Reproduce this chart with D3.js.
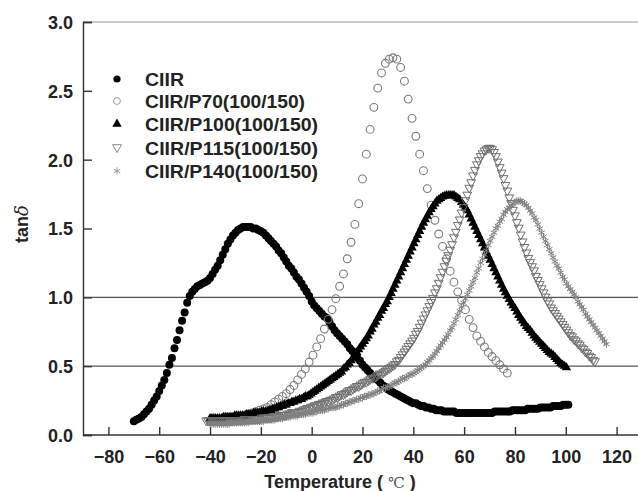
<!DOCTYPE html>
<html><head><meta charset="utf-8">
<script src="https://cdn.jsdelivr.net/npm/d3@7"></script>
<style>
body{margin:0;background:#fff;}
svg{display:block;font-family:"Liberation Sans",Arial,sans-serif;}
</style></head>
<body><svg id="c" width="638" height="491"></svg>
<script>
// ---- data ----
const seriesNames = ["CIIR","CIIR/P70(100/150)","CIIR/P100(100/150)","CIIR/P115(100/150)","CIIR/P140(100/150)"];
const xTicks = [-80,-60,-40,-20,0,20,40,60,80,100,120];
const yTicks = [0.0,0.5,1.0,1.5,2.0,2.5,3.0];
const gridValues = [0.5,1.0];

// CIIR: T from -70, step 1
const ciirStart = -70, ciirStep = 1;
const ciir = [0.10,0.11,0.12,0.13,0.15,0.17,0.19,0.22,0.25,0.28,
0.32,0.36,0.40,0.45,0.51,0.56,0.63,0.69,0.76,0.83,
0.89,0.96,1.01,1.04,1.06,1.08,1.09,1.10,1.11,1.12,
1.14,1.17,1.20,1.23,1.27,1.31,1.35,1.39,1.42,1.45,
1.47,1.49,1.50,1.51,1.51,1.51,1.51,1.50,1.50,1.49,
1.48,1.47,1.45,1.43,1.41,1.39,1.37,1.34,1.32,1.29,
1.26,1.23,1.21,1.18,1.15,1.13,1.10,1.07,1.04,1.01,
0.97,0.94,0.92,0.90,0.88,0.86,0.85,0.82,0.79,0.76,
0.74,0.72,0.70,0.68,0.66,0.63,0.61,0.58,0.56,0.54,
0.51,0.49,0.47,0.45,0.43,0.41,0.40,0.38,0.36,0.35,
0.33,0.32,0.31,0.30,0.29,0.28,0.27,0.26,0.25,0.24,
0.23,0.23,0.22,0.21,0.21,0.20,0.20,0.19,0.19,0.18,
0.18,0.18,0.17,0.17,0.17,0.17,0.17,0.16,0.16,0.16,
0.16,0.16,0.16,0.16,0.16,0.16,0.16,0.16,0.16,0.16,
0.16,0.16,0.17,0.17,0.17,0.17,0.17,0.17,0.17,0.18,
0.18,0.18,0.18,0.18,0.18,0.19,0.19,0.19,0.19,0.19,
0.20,0.20,0.20,0.20,0.20,0.21,0.21,0.21,0.21,0.22,0.22,0.22];

// P70: T from -40, step 1.5
const p70Start = -40, p70Step = 1.5;
const p70 = [0.10,0.10,0.10,0.11,0.11,0.12,0.12,0.13,0.13,0.14,
0.15,0.16,0.17,0.18,0.19,0.20,0.22,0.24,0.26,0.28,
0.30,0.33,0.36,0.40,0.44,0.48,0.53,0.58,0.64,0.70,
0.77,0.84,0.91,0.99,1.08,1.17,1.28,1.40,1.53,1.68,
1.86,2.04,2.22,2.38,2.52,2.63,2.70,2.73,2.74,2.73,
2.67,2.57,2.44,2.30,2.17,2.04,1.92,1.79,1.67,1.56,
1.46,1.37,1.28,1.19,1.11,1.04,0.98,0.91,0.84,0.78,
0.72,0.68,0.64,0.60,0.57,0.54,0.51,0.48,0.45];

// P100: T from -40, step 0.75
const p100Start = -40, p100Step = 0.75;
const p100 = [0.12,0.12,0.12,0.12,0.12,0.12,0.12,0.13,0.13,0.13,
0.13,0.13,0.13,0.14,0.14,0.14,0.14,0.14,0.14,0.15,
0.15,0.15,0.15,0.16,0.16,0.16,0.16,0.17,0.17,0.17,
0.17,0.18,0.18,0.19,0.19,0.20,0.20,0.21,0.21,0.22,
0.22,0.23,0.23,0.24,0.24,0.25,0.25,0.26,0.26,0.27,
0.28,0.28,0.29,0.30,0.31,0.32,0.33,0.34,0.35,0.36,
0.37,0.38,0.39,0.40,0.41,0.42,0.43,0.44,0.45,0.46,
0.48,0.49,0.51,0.52,0.54,0.56,0.58,0.60,0.62,0.64,
0.66,0.68,0.70,0.72,0.75,0.77,0.80,0.82,0.85,0.87,
0.90,0.92,0.95,0.97,1.00,1.03,1.06,1.09,1.12,1.15,
1.18,1.21,1.24,1.27,1.30,1.33,1.36,1.39,1.42,1.45,
1.48,1.51,1.54,1.565,1.59,1.615,1.64,1.66,1.68,1.70,
1.71,1.72,1.73,1.735,1.74,1.74,1.74,1.74,1.74,1.73,
1.72,1.71,1.69,1.67,1.65,1.63,1.60,1.57,1.54,1.51,
1.48,1.45,1.42,1.39,1.36,1.33,1.30,1.27,1.24,1.21,
1.18,1.15,1.12,1.09,1.06,1.035,1.01,0.985,0.96,0.94,
0.92,0.895,0.87,0.85,0.83,0.81,0.79,0.775,0.76,0.74,
0.72,0.705,0.69,0.675,0.66,0.645,0.63,0.615,0.60,0.59,
0.58,0.565,0.55,0.535,0.52,0.51,0.50,0.49];

// P115: T from -41.5, step 0.75
const p115Start = -41.5, p115Step = 0.75;
const p115 = [0.10,0.10,0.10,0.10,0.10,0.10,0.10,0.10,0.10,0.10,
0.10,0.10,0.10,0.10,0.10,0.10,0.10,0.10,0.10,0.10,
0.11,0.11,0.11,0.11,0.11,0.11,0.11,0.11,0.11,0.12,
0.12,0.12,0.12,0.12,0.12,0.13,0.13,0.13,0.13,0.14,
0.14,0.14,0.14,0.15,0.15,0.16,0.16,0.16,0.16,0.17,
0.17,0.18,0.18,0.19,0.19,0.20,0.20,0.21,0.21,0.22,
0.22,0.23,0.23,0.24,0.24,0.25,0.25,0.26,0.27,0.27,
0.28,0.29,0.29,0.30,0.31,0.32,0.32,0.33,0.34,0.35,
0.35,0.36,0.37,0.38,0.38,0.39,0.40,0.41,0.41,0.42,
0.43,0.44,0.44,0.45,0.46,0.47,0.48,0.49,0.50,0.51,
0.53,0.54,0.56,0.58,0.60,0.62,0.64,0.66,0.68,0.70,
0.73,0.75,0.78,0.81,0.84,0.87,0.90,0.93,0.96,0.99,
1.03,1.06,1.10,1.14,1.18,1.22,1.26,1.30,1.34,1.38,
1.43,1.47,1.52,1.56,1.61,1.65,1.70,1.74,1.79,1.83,
1.88,1.92,1.96,1.99,2.02,2.04,2.06,2.07,2.08,2.08,
2.07,2.05,2.02,1.98,1.94,1.90,1.86,1.81,1.77,1.72,
1.68,1.63,1.59,1.54,1.50,1.45,1.40,1.36,1.32,1.28,
1.25,1.22,1.19,1.15,1.12,1.09,1.06,1.03,1.00,0.97,
0.95,0.92,0.90,0.88,0.86,0.84,0.82,0.80,0.78,0.76,
0.74,0.72,0.71,0.69,0.68,0.66,0.65,0.63,0.62,0.60,
0.59,0.57,0.56,0.54,0.53];

// P140: T from -40, step 0.75
const p140Start = -40, p140Step = 0.75;
const p140 = [0.08,0.08,0.08,0.08,0.08,0.08,0.08,0.08,0.08,0.08,
0.08,0.09,0.09,0.09,0.09,0.09,0.09,0.09,0.09,0.09,
0.09,0.10,0.10,0.10,0.10,0.10,0.10,0.10,0.10,0.11,
0.11,0.11,0.11,0.11,0.11,0.12,0.12,0.12,0.12,0.13,
0.13,0.13,0.13,0.14,0.14,0.14,0.14,0.15,0.15,0.15,
0.15,0.16,0.16,0.16,0.16,0.17,0.17,0.18,0.18,0.18,
0.18,0.19,0.19,0.20,0.20,0.20,0.20,0.21,0.21,0.22,
0.22,0.23,0.23,0.24,0.24,0.25,0.25,0.26,0.26,0.27,
0.27,0.28,0.28,0.29,0.29,0.30,0.30,0.31,0.32,0.32,
0.33,0.34,0.34,0.35,0.35,0.36,0.37,0.38,0.38,0.39,
0.40,0.41,0.41,0.42,0.43,0.44,0.44,0.45,0.46,0.47,
0.48,0.49,0.50,0.51,0.53,0.54,0.56,0.57,0.59,0.61,
0.63,0.65,0.67,0.69,0.71,0.73,0.76,0.78,0.81,0.84,
0.87,0.90,0.93,0.96,0.99,1.02,1.05,1.08,1.11,1.14,
1.18,1.21,1.25,1.28,1.31,1.34,1.38,1.41,1.44,1.47,
1.50,1.52,1.55,1.57,1.60,1.62,1.64,1.65,1.67,1.68,
1.69,1.70,1.70,1.70,1.69,1.68,1.67,1.65,1.63,1.61,
1.58,1.56,1.53,1.50,1.47,1.44,1.41,1.38,1.35,1.32,
1.29,1.26,1.23,1.21,1.18,1.15,1.13,1.10,1.08,1.06,
1.04,1.02,1.00,0.97,0.95,0.93,0.91,0.88,0.86,0.84,
0.82,0.80,0.78,0.76,0.74,0.72,0.70,0.68,0.66];

// ---- chart ----
const svg = d3.select("#c");
const x = d3.scaleLinear().domain([-90,130]).range([83,642]);
const y = d3.scaleLinear().domain([0,3]).range([435,22]);

function pts(start, step, vals){ return vals.map((v,i)=>({t:start+i*step, v})); }

// grid lines and top frame
svg.append("g").selectAll("line").data(gridValues).join("line")
  .attr("x1",x(-90)).attr("x2",638).attr("y1",d=>y(d)).attr("y2",d=>y(d))
  .attr("stroke","#555").attr("stroke-width",1.1);
svg.append("line").attr("x1",x(-90)).attr("x2",638).attr("y1",y(3)).attr("y2",y(3))
  .attr("stroke","#999").attr("stroke-width",1.2);

const tickFont = g => g.selectAll("text").attr("font-size",18).attr("font-weight","bold")
  .attr("fill","#222").attr("font-family","'Liberation Sans',Arial,sans-serif");

// x axis
const gx = svg.append("g").attr("transform",`translate(0,${y(0)})`);
gx.call(d3.axisBottom(x).tickValues(d3.range(-90,131,10)).tickSize(-4).tickFormat(""));
gx.call(d3.axisBottom(x).tickValues(xTicks).tickSize(-8).tickPadding(15).tickFormat(d3.format("d")));
gx.selectAll(".domain").attr("stroke","#333").attr("stroke-width",1.4);
gx.selectAll(".tick line").attr("stroke","#333").attr("stroke-width",1.4);
gx.call(tickFont);
gx.select(".domain").attr("d",`M${x(-90)},0H638`);

// y axis
const gy = svg.append("g").attr("transform",`translate(${x(-90)},0)`);
gy.call(d3.axisLeft(y).tickValues(d3.range(0,3.01,0.25)).tickSize(-5).tickFormat(""));
gy.call(d3.axisLeft(y).tickValues(yTicks).tickSize(-9).tickPadding(10).tickFormat(d3.format(".1f")));
gy.selectAll(".domain").attr("stroke","#333").attr("stroke-width",1.4);
gy.selectAll(".tick line").attr("stroke","#333").attr("stroke-width",1.4);
gy.call(tickFont);
gy.selectAll(".tick text").attr("dy","0.36em");

// markers
const triUp = d3.symbol().type(d3.symbolTriangle).size(38)();
const triDown = "M-4.4,-3.3L4.4,-3.3L0,4.6Z";
const aster = d3.symbol().type(d3.symbolAsterisk).size(38)();

const styles = [
  {data:pts(ciirStart,ciirStep,ciir), draw:(s)=>s.append("circle").attr("r",4).attr("fill","#000")},
  {data:pts(p70Start,p70Step,p70), draw:(s)=>s.append("circle").attr("r",3.9).attr("fill","none").attr("stroke","#7a7a7a").attr("stroke-width",1.1)},
  {data:pts(p100Start,p100Step,p100), draw:(s)=>s.append("path").attr("d",triUp).attr("fill","#000")},
  {data:pts(p115Start,p115Step,p115), draw:(s)=>s.append("path").attr("d",triDown).attr("fill","none").attr("stroke","#6e6e6e").attr("stroke-width",1)},
  {data:pts(p140Start,p140Step,p140), draw:(s)=>s.append("path").attr("d",aster).attr("fill","none").attr("stroke","#808080").attr("stroke-width",1)}
];

styles.forEach(st=>{
  const g = svg.append("g");
  const m = g.selectAll("g").data(st.data).join("g")
    .attr("transform",d=>`translate(${x(d.t)},${y(d.v)})`);
  st.draw(m);
});

// legend
const legY = [79,101,124,148,171];
const lg = svg.append("g");
seriesNames.forEach((name,i)=>{
  const row = lg.append("g").attr("transform",`translate(117,${legY[i]})`);
  if(i===0) row.append("circle").attr("r",3.6).attr("fill","#000");
  if(i===1) row.append("circle").attr("r",3.4).attr("fill","none").attr("stroke","#999").attr("stroke-width",1);
  if(i===2) row.append("path").attr("d",triUp).attr("fill","#000");
  if(i===3) row.append("path").attr("d",triDown).attr("fill","none").attr("stroke","#888").attr("stroke-width",1);
  if(i===4) row.append("path").attr("d",aster).attr("fill","none").attr("stroke","#999").attr("stroke-width",1);
  const widths = [39,160,173,173,173];
  row.append("text").attr("x",28).attr("y",6.5).text(name)
    .attr("font-size",18).attr("font-weight","bold").attr("fill","#222")
    .attr("textLength",widths[i]).attr("lengthAdjust","spacingAndGlyphs");
});

// axis titles
const xt = svg.append("text").attr("x",340).attr("y",488).attr("text-anchor","middle")
  .attr("font-size",18).attr("font-weight","bold").attr("fill","#222");
xt.append("tspan").text("Temperature ( ");
xt.append("tspan").attr("font-weight","normal").attr("font-family","'DejaVu Serif',serif").attr("font-size",15).attr("fill","#555").text("℃");
xt.append("tspan").text(" )");

const yt = svg.append("text").attr("transform","translate(28,224) rotate(-90)").attr("text-anchor","middle")
  .attr("font-size",18).attr("font-weight","bold").attr("fill","#222");
yt.append("tspan").text("tan");
yt.append("tspan").attr("font-style","italic").attr("font-weight","normal").attr("font-family","'DejaVu Serif',serif").text("δ");
</script></body></html>
